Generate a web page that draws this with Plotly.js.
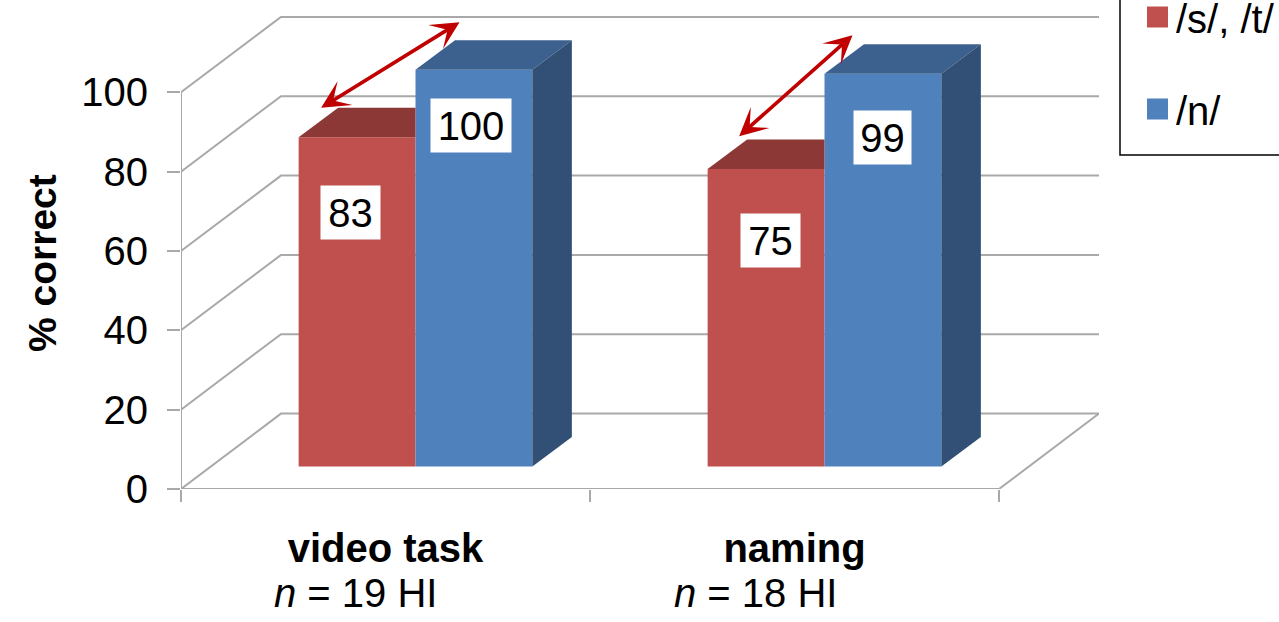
<!DOCTYPE html>
<html>
<head>
<meta charset="utf-8">
<script src="https://cdn.plot.ly/plotly-3.0.1.min.js"></script>
<style>html,body{margin:0;padding:0;background:#fff;overflow:hidden}</style>
</head>
<body>
<div id="chart" style="width:1279px;height:622px"></div>
<script>
// Percent correct per task and consonant group
const tasks = ['video task', 'naming'];
const groupSizes = ['<i>n</i> = 19 HI', '<i>n</i> = 18 HI'];
const stValues = [83, 75];
const nValues = [100, 99];
const yTicks = [0, 20, 40, 60, 80, 100];

const RED = '#c0504d', RED_TOP = '#8c3836';
const BLUE = '#4f81bd', BLUE_TOP = '#3c618f', BLUE_SIDE = '#325075';
const GRID = '#a9a9a9', ARROW = '#c00000';
const FONT = 'Liberation Sans, Arial, sans-serif';
const FS = 40;

// Plot frame in pixels and the scales that follow from it
const L = 181, T = 16, B = 489, R = 1099, W = 1279, H = 622;
const pxX = 409, pxY = 3.967;
const xMax = (R - L) / pxX, yMax = (B - T) / pxY;

// Oblique projection: wall depth, bar plane shift, bar depth
const wallDX = 100 / pxX, wallDY = 75.4 / pxY;
const planeDX = 30 / pxX, planeDY = 22.5 / pxY;
const barDX = 39.5 / pxX, barDY = 29.5 / pxY;
const bw = 1 / 3.5;
const centers = tasks.map((_, i) => i + 0.5);

// Axis frame, floor and back-wall gridlines
const wallX = [], wallY = [];
yTicks.forEach(t => {
  wallX.push(0, wallDX, 2 + wallDX, null);
  wallY.push(t, t + wallDY, t + wallDY, null);
});
wallX.push(2 + wallDX, 2, 0, null, 0, 0);
wallY.push(wallDY, 0, 0, null, 0, 100);

// Depth faces of the bars, built from the same values as the bars
const redTopX = [], redTopY = [], blueTopX = [], blueTopY = [], blueSideX = [], blueSideY = [];
centers.forEach((c, i) => {
  const s = stValues[i], n = nValues[i];
  redTopX.push(c - bw, c - bw + barDX, c, c, null);
  redTopY.push(s, s + barDY, s + barDY, s, null);
  blueTopX.push(c, c + barDX, c + bw + barDX, c + bw, null);
  blueTopY.push(n, n + barDY, n + barDY, n, null);
  blueSideX.push(c + bw, c + bw + barDX, c + bw + barDX, c + bw, null);
  blueSideY.push(0, barDY, n + barDY, n, null);
});
const face = (x, y, color) => ({
  type: 'scatter', x, y, xaxis: 'x2', yaxis: 'y2', mode: 'lines',
  line: {width: 0}, fill: 'toself', fillcolor: color, hoverinfo: 'skip', showlegend: false
});

const traces = [
  {type: 'scatter', x: wallX, y: wallY, mode: 'lines', line: {color: GRID, width: 2},
   hoverinfo: 'skip', showlegend: false},
  {type: 'bar', name: '/s/, /t/', x: centers, y: stValues, xaxis: 'x2', yaxis: 'y2',
   marker: {color: RED}, showlegend: false},
  {type: 'bar', name: '/n/', x: centers, y: nValues, xaxis: 'x2', yaxis: 'y2',
   marker: {color: BLUE}, showlegend: false},
  face(redTopX, redTopY, RED_TOP),
  face(blueTopX, blueTopY, BLUE_TOP),
  face(blueSideX, blueSideY, BLUE_SIDE)
];

// White value boxes on the bars
const valueBox = (text, x, y, w, xshift) => ({
  text: String(text), x, y, xref: 'x2', yref: 'y2', showarrow: false, xshift,
  xanchor: 'center', yanchor: 'middle',
  bgcolor: '#fff', width: w, height: 53, borderpad: 0, valign: 'middle',
  font: {family: FONT, size: FS, color: '#000'}
});
const annotations = [
  valueBox(stValues[0], centers[0] - bw / 2, stValues[0] - 19, 59, -7),
  valueBox(nValues[0], centers[0] + bw / 2, nValues[0] - 14, 80, -3),
  valueBox(stValues[1], centers[1] - bw / 2, stValues[1] - 18, 59, 4),
  valueBox(nValues[1], centers[1] + bw / 2, nValues[1] - 16, 57, 0)
];

// Double-headed arrows spanning the group difference in each task
const arrow = (i, startDx, startDy, endDx, endDy) => ({
  xref: 'x2', yref: 'y2', axref: 'x2', ayref: 'y2', text: '',
  ax: centers[i] - bw + startDx / pxX, ay: stValues[i] + barDY + startDy / pxY,
  x: centers[i] + endDx / pxX, y: nValues[i] + barDY + endDy / pxY,
  showarrow: true, arrowside: 'end+start', arrowhead: 3, startarrowhead: 3,
  arrowsize: 1.3, startarrowsize: 1.3, arrowwidth: 3.6, arrowcolor: ARROW, standoff: 0, startstandoff: 0
});
annotations.push(arrow(0, 21, -1, 44, 18), arrow(1, 30, 2, 28, 9));

// Paper coordinates from page pixels
const paperX = px => (px - L) / (R - L);
const paperY = px => (B - px) / (B - T);

// Group sizes under the category names
groupSizes.forEach((t, i) => annotations.push({
  text: t, x: paperX([355, 755][i]), y: paperY(593), xref: 'paper', yref: 'paper',
  xanchor: 'center', yanchor: 'middle', showarrow: false,
  font: {family: FONT, size: FS, color: '#000'}
}));

// Axis title
annotations.push({
  text: '<b>% correct</b>', textangle: -90, x: paperX(42), y: paperY(263), xref: 'paper', yref: 'paper',
  xanchor: 'center', yanchor: 'middle', showarrow: false,
  font: {family: FONT, size: FS - 1, color: '#000'}
});

// Legend: frame runs off the page on the top and right
const entries = [['/s/, /t/', RED, 17], ['/n/', BLUE, 109]];
const shapes = [{
  type: 'rect', xref: 'paper', yref: 'paper', layer: 'above',
  x0: paperX(1120), x1: paperX(1300), y0: paperY(155), y1: paperY(-20),
  line: {color: '#000', width: 1.5}, fillcolor: '#fff'
}];
entries.forEach(([label, color, cy]) => {
  shapes.push({
    type: 'rect', xref: 'paper', yref: 'paper', layer: 'above',
    x0: paperX(1147), x1: paperX(1168), y0: paperY(cy + 10.5), y1: paperY(cy - 10.5),
    line: {width: 0}, fillcolor: color
  });
  annotations.push({
    text: label, x: paperX(1175), y: paperY(cy + 2), xref: 'paper', yref: 'paper',
    xanchor: 'left', yanchor: 'middle', showarrow: false, height: 38, borderpad: 0, valign: 'middle',
    font: {family: FONT, size: FS, color: '#000'}
  });
});

const layout = {
  width: W, height: H, autosize: false,
  margin: {l: L, r: W - R, t: T, b: H - B, pad: 0},
  paper_bgcolor: '#fff', plot_bgcolor: 'rgba(0,0,0,0)',
  showlegend: false, hovermode: false,
  barmode: 'group', bargap: 1.5 / 3.5, bargroupgap: 0,
  font: {family: FONT, size: FS, color: '#000'},
  xaxis: {
    range: [0, xMax], showgrid: false, zeroline: false, showline: false,
    tickmode: 'array', tickvals: centers, ticktext: tasks.map(t => '<b>' + t + '</b>'),
    ticks: '', ticklabelstandoff: 32,
    minor: {tickmode: 'array', tickvals: [0, 1, 2], ticks: 'outside', ticklen: 12, tickwidth: 2, tickcolor: GRID, showgrid: false},
    tickfont: {family: FONT, size: FS, color: '#000'}
  },
  yaxis: {
    range: [0, yMax], showgrid: false, zeroline: false, showline: false,
    tickmode: 'array', tickvals: yTicks, ticks: 'outside', ticklen: 13, tickwidth: 2, tickcolor: GRID,
    ticklabelstandoff: 11, tickfont: {family: FONT, size: FS, color: '#000'}
  },
  // Second pair of axes places the bars on a plane set back from the front axes
  xaxis2: {overlaying: 'x', range: [-planeDX, xMax - planeDX], visible: false, anchor: 'y2'},
  yaxis2: {overlaying: 'y', range: [-planeDY, yMax - planeDY], visible: false, anchor: 'x2'},
  annotations, shapes
};

Plotly.newPlot('chart', traces, layout, {displayModeBar: false, staticPlot: true});
</script>
</body>
</html>
